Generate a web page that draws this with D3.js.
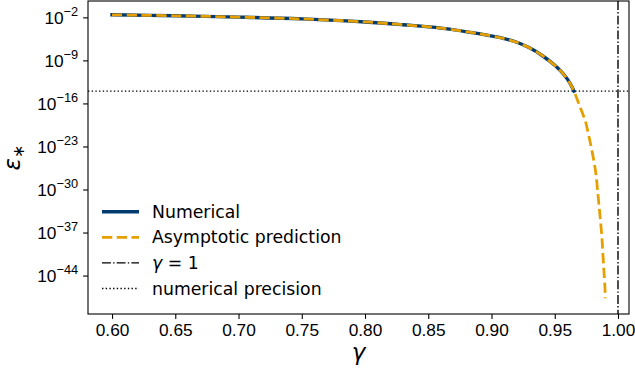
<!DOCTYPE html>
<html>
<head>
<meta charset="utf-8">
<script src="https://cdn.jsdelivr.net/npm/d3@7"></script>
<style>
  body { margin: 0; background: #fff; }
  svg { display: block; font-family: "DejaVu Sans", sans-serif; }
</style>
</head>
<body>
<div id="chart"></div>
<script>
// values (gamma vs epsilon_*)
const gammaNumerical = [0.600, 0.650, 0.700, 0.750, 0.800, 0.830, 0.860, 0.890, 0.910, 0.920, 0.930, 0.940, 0.950, 0.955, 0.960, 0.9636, 0.9652];
const epsNumerical   = [2.6e-2, 1.8e-2, 1.1e-2, 5.6e-3, 1.8e-3, 6.3e-4, 1.8e-4, 2.2e-5, 3.5e-6, 8.9e-7, 1.1e-7, 6.3e-9, 1.6e-10, 1.6e-11, 8.9e-13, 5.0e-14, 1.0e-14];

const gammaAsymptotic = [0.600, 0.650, 0.700, 0.750, 0.800, 0.830, 0.860, 0.890, 0.910, 0.920, 0.930, 0.940, 0.950, 0.955, 0.960, 0.9636, 0.9652,
                         0.9702, 0.9742, 0.9767, 0.9789, 0.9812, 0.9828, 0.9839, 0.9852, 0.9862, 0.9873, 0.9881, 0.9889, 0.9897, 0.9899];
const epsAsymptotic   = [2.6e-2, 1.8e-2, 1.1e-2, 5.6e-3, 1.8e-3, 6.3e-4, 1.8e-4, 2.2e-5, 3.5e-6, 8.9e-7, 1.1e-7, 6.3e-9, 1.6e-10, 1.6e-11, 8.9e-13, 5.0e-14, 1.0e-14,
                         2.1e-17, 1.35e-19, 9.1e-22, 6.2e-24, 2.2e-26, 1.45e-28, 5.1e-31, 1.0e-33, 6.6e-36, 1.3e-38, 2.5e-41, 4.6e-44, 8.9e-47, 2.1e-48];

const gammaOne = 1.0;
const numericalPrecision = 1e-14;

const xTicks = [0.60, 0.65, 0.70, 0.75, 0.80, 0.85, 0.90, 0.95, 1.00];
const yTicks = [1e-2, 1e-9, 1e-16, 1e-23, 1e-30, 1e-37, 1e-44];

const legendLabels = ["Numerical", "Asymptotic prediction", "γ = 1", "numerical precision"];

// layout
const width = 635, height = 372;
const margin = {top: 1, right: 6, bottom: 58, left: 88};
const plotW = width - margin.left - margin.right;
const plotH = height - margin.top - margin.bottom;

const blue = "#003a6e", orange = "#E69F00";
const fontSize = 17.3;

const svg = d3.select("#chart").append("svg")
    .attr("width", width)
    .attr("height", height);

const g = svg.append("g")
    .attr("transform", `translate(${margin.left},${margin.top})`);

const x = d3.scaleLinear()
    .domain([0.581, 1.0087])
    .range([0, plotW]);

const y = d3.scaleLog()
    .domain([Math.pow(10, -50.25), Math.pow(10, 0.66)])
    .range([plotH, 0]);

svg.append("defs").append("clipPath").attr("id", "plotclip")
    .append("rect").attr("width", plotW).attr("height", plotH);

const plot = g.append("g").attr("clip-path", "url(#plotclip)");

const line = d3.line()
    .x(d => x(d[0]))
    .y(d => y(d[1]))
    .curve(d3.curveCatmullRom.alpha(0.5));

// numerical precision (axhline)
plot.append("line")
    .attr("x1", 0).attr("x2", plotW)
    .attr("y1", y(numericalPrecision)).attr("y2", y(numericalPrecision))
    .attr("stroke", "#000").attr("stroke-width", 1.39)
    .attr("stroke-dasharray", "1.39,2.3");

// gamma = 1 (axvline)
plot.append("line")
    .attr("x1", x(gammaOne)).attr("x2", x(gammaOne))
    .attr("y1", 0).attr("y2", plotH)
    .attr("stroke", "#000").attr("stroke-width", 1.39)
    .attr("stroke-dasharray", "8.9,2.2,1.4,2.2");

// numerical
plot.append("path")
    .datum(d3.zip(gammaNumerical, epsNumerical))
    .attr("d", line)
    .attr("fill", "none")
    .attr("stroke", blue)
    .attr("stroke-width", 3.4)
    .attr("stroke-linecap", "square");

// asymptotic prediction
plot.append("path")
    .datum(d3.zip(gammaAsymptotic, epsAsymptotic))
    .attr("d", line)
    .attr("fill", "none")
    .attr("stroke", orange)
    .attr("stroke-width", 2.78)
    .attr("stroke-dasharray", "10.3,4.45");

// axes
const xAxis = g.append("g")
    .attr("transform", `translate(0,${plotH})`)
    .call(d3.axisBottom(x).tickValues(xTicks).tickFormat(d3.format(".2f")).tickSize(4.9).tickPadding(4.5));

const yAxis = g.append("g")
    .call(d3.axisLeft(y).tickValues(yTicks).tickFormat("").tickSize(4.9));

[xAxis, yAxis].forEach(a => {
    a.selectAll("path").remove();
    a.selectAll("line").attr("stroke", "#000").attr("stroke-width", 1.1);
});
xAxis.selectAll("text")
    .attr("font-size", fontSize)
    .attr("fill", "#000");

// y tick labels 10^n
yAxis.selectAll(".tick").each(function(d) {
    const e = Math.round(Math.log10(d));
    const t = d3.select(this).append("text")
        .attr("x", -9.8)
        .attr("y", 6)
        .attr("text-anchor", "end")
        .attr("fill", "#000")
        .attr("font-size", fontSize);
    t.append("tspan").text("10");
    t.append("tspan")
        .attr("dy", -8)
        .attr("font-size", fontSize * 0.74)
        .text("\u2212" + Math.abs(e));
});

// frame
g.append("rect")
    .attr("width", plotW).attr("height", plotH)
    .attr("fill", "none").attr("stroke", "#000").attr("stroke-width", 1.1);

// axis labels
svg.append("text")
    .attr("x", margin.left + plotW / 2)
    .attr("y", 360)
    .attr("text-anchor", "middle")
    .attr("font-size", 23)
    .attr("font-style", "italic")
    .text("γ");

const yl = svg.append("text")
    .attr("transform", `translate(20,${margin.top + plotH / 2}) rotate(-90)`)
    .attr("text-anchor", "middle")
    .attr("font-size", 23);
yl.append("tspan").attr("font-style", "italic").text("ε");
yl.append("tspan").attr("dy", 4).attr("font-size", 16).text("∗");

// legend
const legend = svg.append("g");
const legendRows = [
    {stroke: blue, width: 3.4, dash: null},
    {stroke: orange, width: 2.78, dash: "10.3,4.45"},
    {stroke: "#000", width: 1.39, dash: "8.9,2.2,1.4,2.2"},
    {stroke: "#000", width: 1.39, dash: "1.39,2.3"}
];
legendRows.forEach((r, i) => {
    const cy = 211.7 + i * 25.6;
    legend.append("line")
        .attr("x1", 102).attr("x2", 139)
        .attr("y1", cy).attr("y2", cy)
        .attr("stroke", r.stroke).attr("stroke-width", r.width)
        .attr("stroke-dasharray", r.dash);
    const t = legend.append("text")
        .attr("x", 152).attr("y", cy + 6)
        .attr("font-size", fontSize)
        .attr("fill", "#000");
    if (i === 2) {
        t.append("tspan").attr("font-style", "italic").text("γ");
        t.append("tspan").text(" = 1");
    } else {
        t.text(legendLabels[i]);
    }
});
</script>
</body>
</html>
